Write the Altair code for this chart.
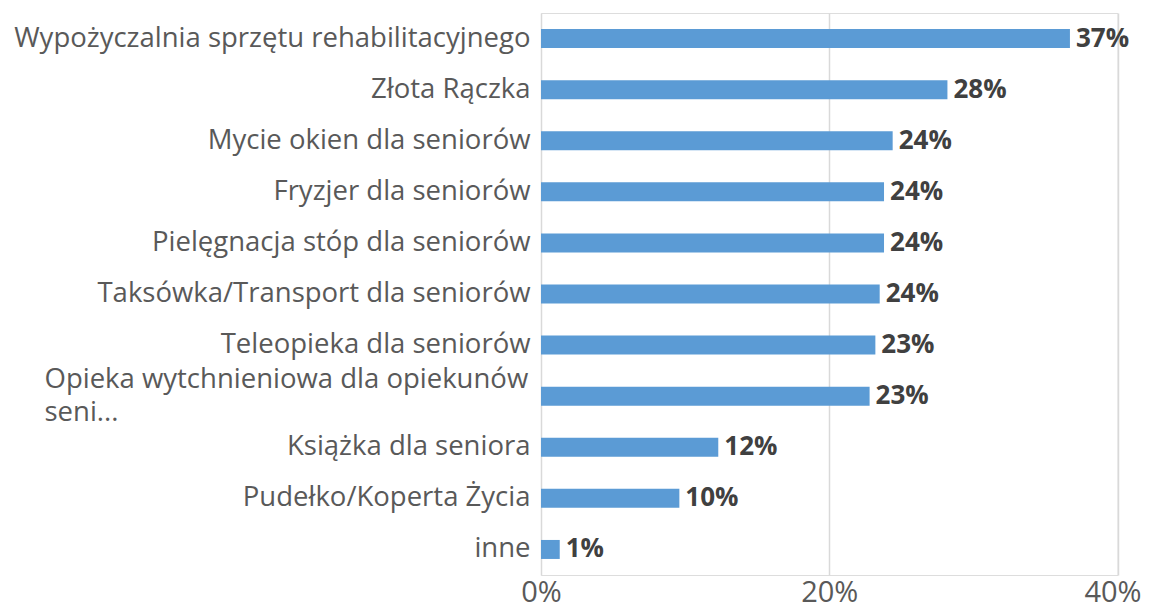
import altair as alt
import pandas as pd

categories = [
    "Wypożyczalnia sprzętu rehabilitacyjnego",
    "Złota Rączka",
    "Mycie okien dla seniorów",
    "Fryzjer dla seniorów",
    "Pielęgnacja stóp dla seniorów",
    "Taksówka/Transport dla seniorów",
    "Teleopieka dla seniorów",
    "Opieka wytchnieniowa dla opiekunów seni...",
    "Książka dla seniora",
    "Pudełko/Koperta Życia",
    "inne",
]
values = [0.367, 0.282, 0.244, 0.238, 0.238, 0.235, 0.232, 0.228, 0.123, 0.096, 0.013]
tick_values = [0, 0.2, 0.4]

df = pd.DataFrame({"kategoria": categories, "wartosc": values})

FONT = "Open Sans"
test_opieka = "substring(datum.value, 0, 6) == 'Opieka'"

y_enc = alt.Y(
    "kategoria:N",
    sort=categories,
    title=None,
    scale=alt.Scale(paddingInner=0, paddingOuter=0),
    axis=alt.Axis(
        ticks=False,
        domain=False,
        grid=False,
        labelFont=FONT,
        labelFontSize=27.5,
        labelColor="#595959",
        labelLimit=0,
        labelLineHeight=33,
        labelAlign={"condition": {"test": test_opieka, "value": "left"}, "value": "right"},
        labelPadding={"condition": {"test": test_opieka, "value": 497}, "value": 11},
        labelOffset={"condition": {"test": test_opieka, "value": -16}, "value": 0},
        labelExpr="substring(datum.value, 0, 6) == 'Opieka' ? ['Opieka wytchnieniowa dla opiekunów', 'seni...'] : datum.value",
    ),
)

x_enc = alt.X(
    "wartosc:Q",
    title=None,
    scale=alt.Scale(domain=[0, 0.4], nice=False),
    axis=alt.Axis(
        values=tick_values,
        format=".0%",
        ticks=False,
        domain=False,
        grid=True,
        gridColor="#d9d9d9",
        gridWidth=1.5,
        labelFont=FONT,
        labelFontSize=29,
        labelColor="#595959",
        labelPadding=3,
        labelFlush=False,
        labelOffset={"condition": {"test": "datum.value >= 0.39", "value": -5}, "value": 0},
    ),
)

bars = alt.Chart(df).mark_bar(color="#5B9BD5", size=19).encode(x=x_enc, y=y_enc)

labels = alt.Chart(df).mark_text(
    align="left",
    baseline="middle",
    dx=6,
    font=FONT,
    fontSize=26,
    fontWeight="bold",
    color="#404040",
).encode(
    x=alt.X("wartosc:Q"),
    y=alt.Y("kategoria:N", sort=categories),
    text=alt.Text("wartosc:Q", format=".0%"),
)

chart = (
    alt.layer(bars, labels)
    .properties(
        width=576.5,
        height=562,
        autosize=alt.AutoSizeParams(type="none"),
        padding={"left": 533, "top": 5, "right": 24, "bottom": 27},
    )
    .configure_view(stroke=None)
    .configure(background="white")
)

chart.save("out.html", embed_options={"renderer": "svg", "actions": False})
